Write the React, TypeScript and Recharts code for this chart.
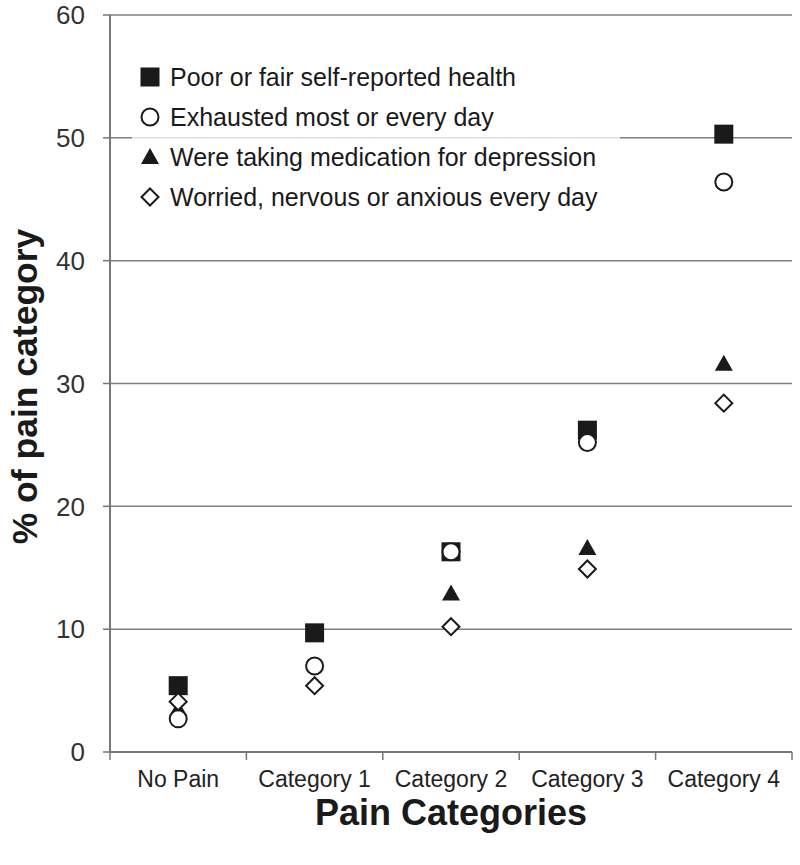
import { CartesianGrid, Label, Scatter, ScatterChart, XAxis, YAxis } from "recharts";

const categories = ["No Pain", "Category 1", "Category 2", "Category 3", "Category 4"];
const poorHealth = [5.4, 9.7, 16.3, 26.2, 50.3];
const exhausted = [2.7, 7.0, 16.3, 25.2, 46.4];
const medication = [3.5, 9.6, 12.9, 16.6, 31.6];
const worried = [4.1, 5.4, 10.2, 14.9, 28.4];
const yTicks = [0, 10, 20, 30, 40, 50, 60];
const xTicks = [0, 0.5, 1, 1.5, 2, 2.5, 3, 3.5, 4, 4.5, 5];

const legendLabels = [
  "Poor or fair self-reported health",
  "Exhausted most or every day",
  "Were taking medication for depression",
  "Worried, nervous or anxious every day",
];

const FONT = "'Liberation Sans', Arial, Helvetica, sans-serif";
const INK = "#1a1a1a";

const toPoints = (vals: number[]) => vals.map((v, i) => ({ x: i + 0.5, y: v }));

const Square = ({ cx, cy }: any) => <rect x={cx - 9.5} y={cy - 9.5} width={19} height={19} fill={INK} />;
const Circle = ({ cx, cy }: any) => <circle cx={cx} cy={cy} r={8.5} fill="#fff" stroke={INK} strokeWidth={2} />;
const Triangle = ({ cx, cy }: any) => (
  <polygon points={`${cx},${cy - 9} ${cx - 9},${cy + 7} ${cx + 9},${cy + 7}`} fill={INK} />
);
const Diamond = ({ cx, cy }: any) => (
  <polygon
    points={`${cx},${cy - 8.5} ${cx + 8.5},${cy} ${cx},${cy + 8.5} ${cx - 8.5},${cy}`}
    fill="#fff"
    stroke={INK}
    strokeWidth={2}
  />
);

const legendShapes = [Square, Circle, Triangle, Diamond];

const XTick = (props: any) => {
  const { x, y, payload } = props;
  const v = payload.value;
  if (Number.isInteger(v)) {
    return <line x1={x} x2={x} y1={y} y2={y + 8} stroke="#777" strokeWidth={1.5} />;
  }
  return (
    <text x={x} y={y + 35} textAnchor="middle" fontSize={23} fill="#222" fontFamily={FONT}>
      {categories[Math.floor(v)]}
    </text>
  );
};

export default function App() {
  return (
    <div style={{ position: "absolute", left: 0, top: 0, width: 800, height: 865, background: "#fff" }}>
      <ScatterChart width={800} height={865} margin={{ top: 15, right: 8, bottom: 40, left: 0 }}>
        <CartesianGrid horizontal vertical={false} stroke="#808080" strokeWidth={1.5} />
        <XAxis
          type="number"
          dataKey="x"
          domain={[0, 5]}
          ticks={xTicks}
          interval={0}
          tickLine={false}
          tickSize={0}
          tickMargin={0}
          tick={<XTick />}
          axisLine={{ stroke: "#777", strokeWidth: 2 }}
          height={73}
        >
          <Label
            content={({ viewBox }: any) => (
              <text
                x={viewBox.x + viewBox.width / 2}
                y={viewBox.y + 73}
                textAnchor="middle"
                fontSize={36}
                fontWeight="bold"
                fill={INK}
                fontFamily={FONT}
              >
                Pain Categories
              </text>
            )}
          />
        </XAxis>
        <YAxis
          type="number"
          dataKey="y"
          domain={[0, 60]}
          ticks={yTicks}
          interval={0}
          width={110}
          tickSize={7}
          tickMargin={18}
          tickLine={{ stroke: "#777", strokeWidth: 1.5 }}
          axisLine={{ stroke: "#777", strokeWidth: 2 }}
          tick={{ fontSize: 26, fill: "#333", fontFamily: FONT }}
        >
          <Label
            content={({ viewBox }: any) => {
              const cx = 25;
              const cy = viewBox.y + viewBox.height / 2 + 3;
              return (
                <text
                  x={cx}
                  y={cy}
                  transform={`rotate(-90, ${cx}, ${cy})`}
                  textAnchor="middle"
                  dominantBaseline="central"
                  fontSize={35.5}
                  fontWeight="bold"
                  fill={INK}
                  fontFamily={FONT}
                >
                  % of pain category
                </text>
              );
            }}
          />
        </YAxis>
        <Scatter data={toPoints(medication)} shape={<Triangle />} isAnimationActive={false} />
        <Scatter data={toPoints(poorHealth)} shape={<Square />} isAnimationActive={false} />
        <Scatter data={toPoints(exhausted)} shape={<Circle />} isAnimationActive={false} />
        <Scatter data={toPoints(worried)} shape={<Diamond />} isAnimationActive={false} />
      </ScatterChart>
      <div
        style={{
          position: "absolute",
          left: 132,
          top: 57,
          width: 488,
          height: 158,
          background: "rgba(255,255,255,0.75)",
          fontFamily: FONT,
          fontSize: 25,
          color: INK,
        }}
      >
        {legendLabels.map((label, i) => {
          const Shape = legendShapes[i];
          return (
            <div key={label} style={{ display: "flex", alignItems: "center", height: 40 }}>
              <svg width={24} height={24} style={{ marginLeft: 6, marginRight: 8 }}>
                <Shape cx={12} cy={12} />
              </svg>
              <span>{label}</span>
            </div>
          );
        })}
      </div>
    </div>
  );
}
